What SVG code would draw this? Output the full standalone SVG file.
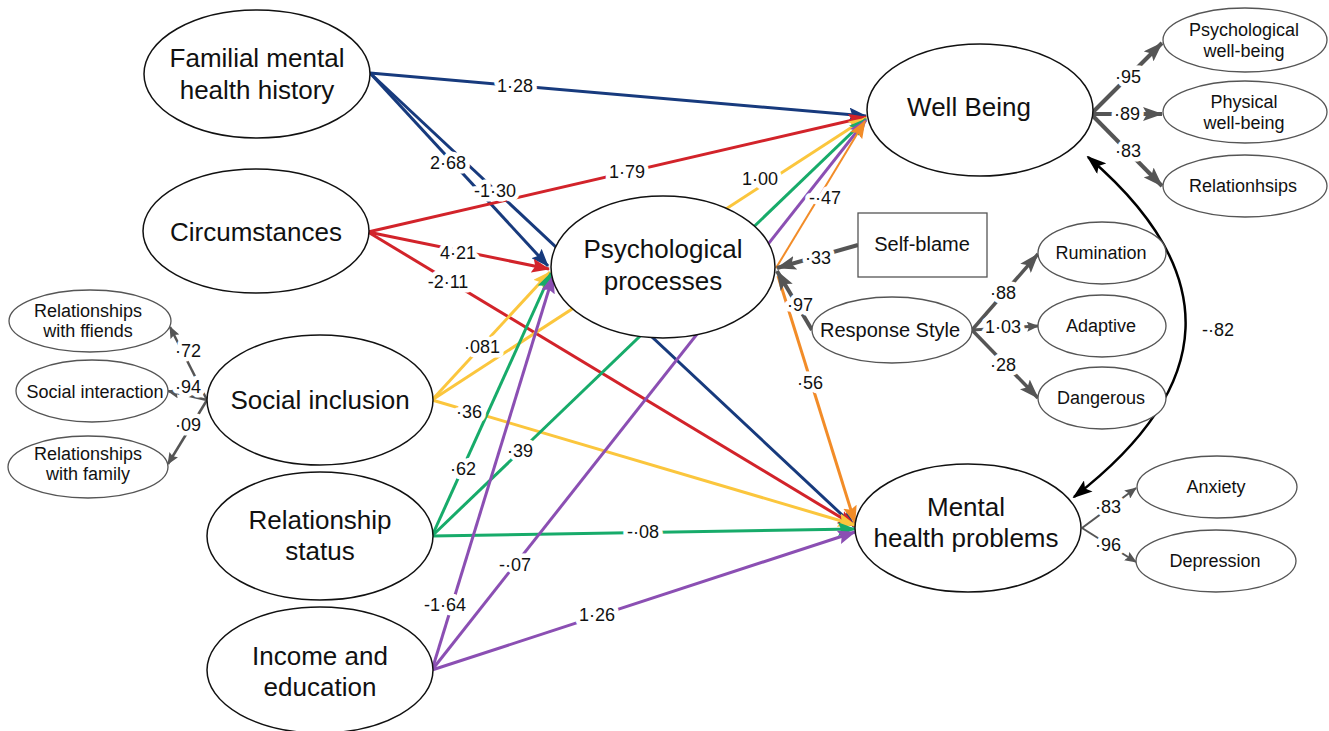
<svg xmlns="http://www.w3.org/2000/svg" width="1329" height="731" viewBox="0 0 1329 731">
<style>
text{font-family:"Liberation Sans",Arial,Helvetica,sans-serif;fill:#111;text-anchor:middle}
.big{font-size:26px}
.mid{font-size:20px}
.sm{font-size:18px}
.lab{font-size:18px;stroke:#fff;stroke-width:9;stroke-linejoin:round;paint-order:stroke}
.main{fill:#fff;stroke:#111;stroke-width:1.5}
.ind{fill:#fff;stroke:#555;stroke-width:1.3}
.c{fill:none;stroke-width:3}
.navy{stroke:#173a7d;marker-end:url(#m-navy)}
.red{stroke:#d2232a;marker-end:url(#m-red)}
.yel{stroke:#fbc63d;marker-end:url(#m-yel)}
.grn{stroke:#17ab6a;marker-end:url(#m-grn)}
.pur{stroke:#8b4fb3;marker-end:url(#m-pur)}
.org{stroke:#f28c28;marker-end:url(#m-org)}
.gb{fill:none;stroke:#555;stroke-width:4;marker-end:url(#m-gb)}
.gs{fill:none;stroke:#555;stroke-width:2.5;marker-end:url(#m-gs)}
</style>
<defs>
<marker id="m-navy" markerUnits="userSpaceOnUse" markerWidth="18" markerHeight="14" refX="17" refY="7" orient="auto"><path d="M0,0 L18,7 L0,14 L3,7 z" fill="#173a7d"/></marker>
<marker id="m-red" markerUnits="userSpaceOnUse" markerWidth="18" markerHeight="14" refX="17" refY="7" orient="auto"><path d="M0,0 L18,7 L0,14 L3,7 z" fill="#d2232a"/></marker>
<marker id="m-yel" markerUnits="userSpaceOnUse" markerWidth="18" markerHeight="14" refX="17" refY="7" orient="auto"><path d="M0,0 L18,7 L0,14 L3,7 z" fill="#fbc63d"/></marker>
<marker id="m-grn" markerUnits="userSpaceOnUse" markerWidth="18" markerHeight="14" refX="17" refY="7" orient="auto"><path d="M0,0 L18,7 L0,14 L3,7 z" fill="#17ab6a"/></marker>
<marker id="m-pur" markerUnits="userSpaceOnUse" markerWidth="18" markerHeight="14" refX="17" refY="7" orient="auto"><path d="M0,0 L18,7 L0,14 L3,7 z" fill="#8b4fb3"/></marker>
<marker id="m-org" markerUnits="userSpaceOnUse" markerWidth="18" markerHeight="14" refX="17" refY="7" orient="auto"><path d="M0,0 L18,7 L0,14 L3,7 z" fill="#f28c28"/></marker>
<marker id="m-gb" markerUnits="userSpaceOnUse" markerWidth="20" markerHeight="14" refX="19" refY="7" orient="auto"><path d="M0,0 L20,7 L0,14 L4,7 z" fill="#555"/></marker>
<marker id="m-gs" markerUnits="userSpaceOnUse" markerWidth="12" markerHeight="10" refX="11" refY="5" orient="auto"><path d="M0,0 L12,5 L0,10 L2,5 z" fill="#555"/></marker>
<marker id="m-blk" markerUnits="userSpaceOnUse" markerWidth="20" markerHeight="14" refX="18" refY="7" orient="auto-start-reverse"><path d="M0,0 L20,7 L0,14 L4,7 z" fill="#000"/></marker>
</defs>

<g id="connectors">
<path class="c navy" d="M370,73 L866,116"/>
<path class="c navy" d="M370,73 L548,266"/>
<path class="c navy" d="M370,73 L855,527"/>
<path class="c red" d="M368,232 L866,117"/>
<path class="c red" d="M368,232 L549,269"/>
<path class="c red" d="M368,232 L855,526"/>
<path class="c yel" d="M432,400 L550,272"/>
<path class="c yel" d="M432,400 L866,118"/>
<path class="c yel" d="M432,400 L855,525"/>
<path class="c grn" d="M432,536 L551,273"/>
<path class="c grn" d="M432,536 L866,119"/>
<path class="c grn" d="M432,536 L855,529"/>
<path class="c pur" d="M432,670 L553,276"/>
<path class="c pur" d="M432,670 L866,120"/>
<path class="c pur" d="M432,670 L855,532"/>
<path class="c org" style="stroke-width:2" d="M776,268 L865,121"/>
<path class="c org" d="M778,276 L855,523"/>
<path class="gb" d="M858,245 L777,268"/>
<path class="gb" d="M812,330 L777,271"/>
<path class="gb" d="M1091,114 L1162,43"/>
<path class="gb" d="M1091,114 L1162,114"/>
<path class="gb" d="M1091,114 L1162,186"/>
<path class="gb" style="stroke-width:3.5" d="M972,330 L1038,254"/>
<path class="gs" style="stroke-width:3" d="M972,330 L1038,326"/>
<path class="gb" style="stroke-width:3.5" d="M972,330 L1038,398"/>
<path class="gs" style="stroke-width:2" d="M1082,528 L1136,488"/>
<path class="gs" style="stroke-width:2" d="M1082,528 L1136,562"/>
<path class="gs" d="M207,400 L170,327"/>
<path class="gs" d="M207,400 L168,391"/>
<path class="gs" d="M207,400 L168,464"/>
<path d="M1088,157 Q1290,330 1074,497" fill="none" stroke="#000" stroke-width="2.5" marker-start="url(#m-blk)" marker-end="url(#m-blk)"/>
</g>

<g id="familial"><ellipse class="main" cx="257" cy="74" rx="113" ry="64"/><text class="big" x="257" y="67">Familial mental</text><text class="big" x="257" y="99">health history</text></g>
<g id="circumstances"><ellipse class="main" cx="256" cy="231" rx="113" ry="62"/><text class="big" x="256" y="241">Circumstances</text></g>
<g id="social-inclusion"><ellipse class="main" cx="320" cy="400" rx="113" ry="65"/><text class="big" x="320" y="409">Social inclusion</text></g>
<g id="relationship-status"><ellipse class="main" cx="320" cy="536" rx="113" ry="64"/><text class="big" x="320" y="529">Relationship</text><text class="big" x="320" y="560">status</text></g>
<g id="income-education"><ellipse class="main" cx="320" cy="670" rx="113" ry="63"/><text class="big" x="320" y="665">Income and</text><text class="big" x="320" y="696">education</text></g>
<g id="psychological-processes"><ellipse class="main" cx="663" cy="267" rx="112" ry="71"/><text class="big" x="663" y="258">Psychological</text><text class="big" x="663" y="290">processes</text></g>
<g id="well-being"><ellipse class="main" cx="980" cy="110" rx="113" ry="66"/><text class="big" x="969" y="116">Well Being</text></g>
<g id="mental-health"><ellipse class="main" cx="968" cy="528" rx="113" ry="64"/><text class="big" x="966" y="516">Mental</text><text class="big" x="966" y="547">health problems</text></g>
<g id="self-blame"><rect x="858" y="213" width="129" height="64" fill="#fff" stroke="#555" stroke-width="1.3"/><text class="mid" x="922" y="251">Self-blame</text></g>
<g id="response-style"><ellipse class="ind" cx="892" cy="330" rx="80" ry="33"/><text class="mid" x="890" y="337">Response Style</text></g>
<g id="rumination"><ellipse class="ind" cx="1102" cy="253" rx="64" ry="31"/><text class="sm" x="1101" y="259">Rumination</text></g>
<g id="adaptive"><ellipse class="ind" cx="1102" cy="326" rx="64" ry="31"/><text class="sm" x="1101" y="332">Adaptive</text></g>
<g id="dangerous"><ellipse class="ind" cx="1102" cy="398" rx="64" ry="31"/><text class="sm" x="1101" y="404">Dangerous</text></g>
<g id="psych-wellbeing"><ellipse class="ind" cx="1245" cy="40" rx="82" ry="32"/><text class="sm" x="1244" y="36">Psychological</text><text class="sm" x="1244" y="57">well-being</text></g>
<g id="physical-wellbeing"><ellipse class="ind" cx="1245" cy="112" rx="82" ry="31"/><text class="sm" x="1244" y="108">Physical</text><text class="sm" x="1244" y="129">well-being</text></g>
<g id="relationhsips"><ellipse class="ind" cx="1245" cy="186" rx="82" ry="31"/><text class="sm" x="1243" y="192">Relationhsips</text></g>
<g id="anxiety"><ellipse class="ind" cx="1217" cy="487" rx="80" ry="31"/><text class="sm" x="1216" y="493">Anxiety</text></g>
<g id="depression"><ellipse class="ind" cx="1216" cy="561" rx="80" ry="31"/><text class="sm" x="1215" y="567">Depression</text></g>
<g id="rel-friends"><ellipse class="ind" cx="90" cy="321" rx="81" ry="31"/><text class="sm" x="88" y="317">Relationships</text><text class="sm" x="88" y="337">with ffiends</text></g>
<g id="social-interaction"><ellipse class="ind" cx="92" cy="391" rx="76" ry="31"/><text class="sm" x="95" y="398">Social interaction</text></g>
<g id="rel-family"><ellipse class="ind" cx="88" cy="467" rx="80" ry="31"/><text class="sm" x="88" y="460">Relationships</text><text class="sm" x="88" y="480">with family</text></g>

<g id="labels">
<text class="lab" x="515" y="92">1·28</text>
<text class="lab" x="448" y="169">2·68</text>
<text class="lab" x="495" y="197">-1·30</text>
<text class="lab" x="627" y="178">1·79</text>
<text class="lab" x="458" y="259">4·21</text>
<text class="lab" x="448" y="288">-2·11</text>
<text class="lab" x="482" y="353">·081</text>
<text class="lab" x="760" y="185">1·00</text>
<text class="lab" x="469" y="418">·36</text>
<text class="lab" x="463" y="475">·62</text>
<text class="lab" x="520" y="457">·39</text>
<text class="lab" x="643" y="538">-·08</text>
<text class="lab" x="515" y="571">-·07</text>
<text class="lab" x="445" y="611">-1·64</text>
<text class="lab" x="597" y="621">1·26</text>
<text class="lab" x="825" y="204">-·47</text>
<text class="lab" x="810" y="389">·56</text>
<text class="lab" x="818" y="264">·33</text>
<text class="lab" x="800" y="311">·97</text>
<text class="lab" x="1003" y="299">·88</text>
<text class="lab" x="1003" y="333">1·03</text>
<text class="lab" x="1003" y="371">·28</text>
<text class="lab" x="188" y="357">·72</text>
<text class="lab" x="188" y="393">·94</text>
<text class="lab" x="188" y="431">·09</text>
<text class="lab" x="1128" y="83">·95</text>
<text class="lab" x="1127" y="120">·89</text>
<text class="lab" x="1128" y="157">·83</text>
<text class="lab" x="1108" y="513">·83</text>
<text class="lab" x="1108" y="551">·96</text>
<text class="lab" x="1218" y="336">-·82</text>
</g>
</svg>
